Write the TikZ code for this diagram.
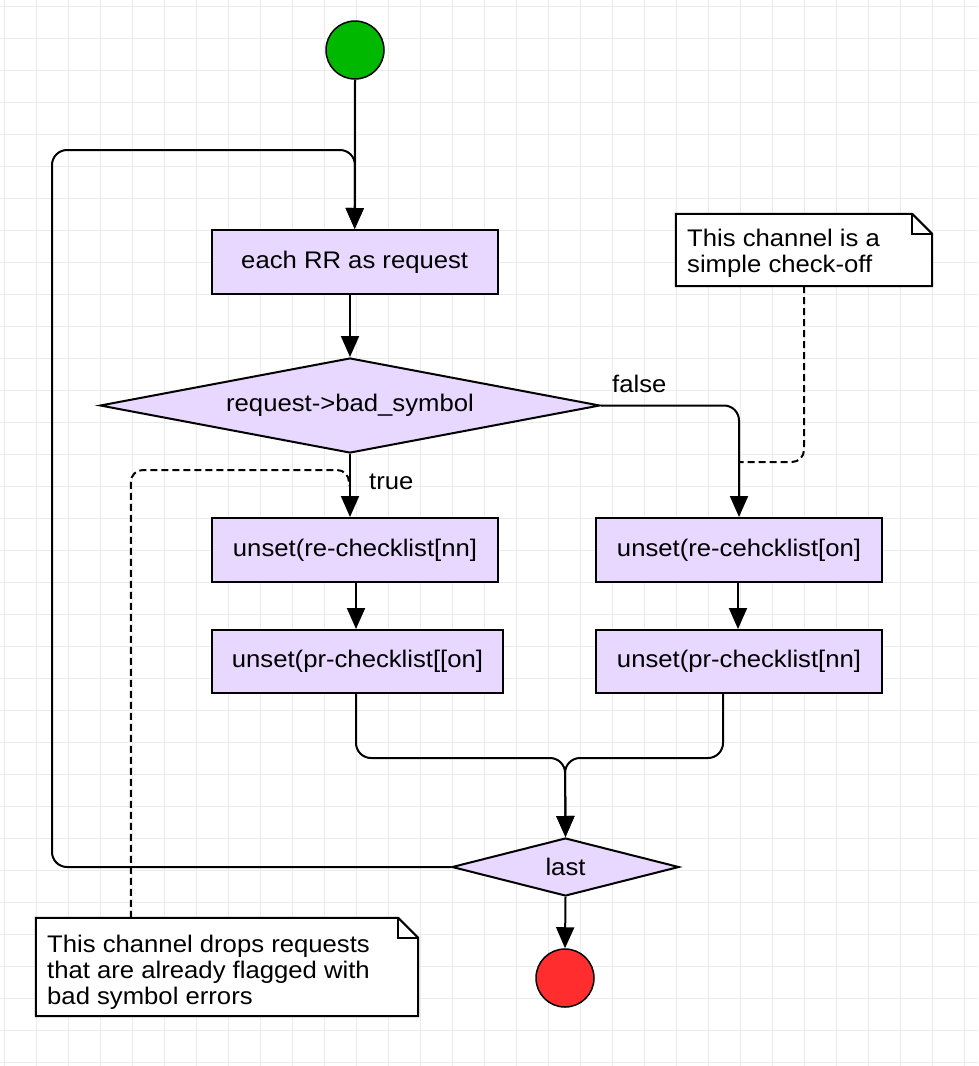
\documentclass[tikz,border=0pt]{standalone}
\usepackage{fontspec}
\setmainfont{Liberation Sans}[FakeStretch=1.07]
\usetikzlibrary{arrows.meta,shapes.geometric}
\definecolor{boxfill}{HTML}{E8D7FF}
\definecolor{gridcol}{HTML}{EBEBEB}
\definecolor{startcol}{HTML}{00B800}
\definecolor{endcol}{HTML}{FF2D2D}
\tikzset{
  stepbox/.style={draw=black, fill=boxfill, line width=2pt, inner sep=0pt, rectangle},
  decide/.style={draw=black, fill=boxfill, line width=2pt, inner sep=0pt, diamond},
  startnode/.style={draw=black, fill=startcol, line width=1.5pt, circle, minimum size=58pt, inner sep=0pt},
  endnode/.style={draw=black, fill=endcol, line width=1.5pt, circle, minimum size=58pt, inner sep=0pt},
  flow/.style={line width=2pt, -{Triangle[length=21pt,width=18pt]}},
  plainflow/.style={line width=2pt},
  dashline/.style={line width=2pt, dash pattern=on 7pt off 4pt},
  noteshape/.style={inner sep=0pt, draw=none},
  noteline/.style={draw=black, fill=white, line width=2pt, line join=miter},
  notetext/.style={inner sep=0pt, align=left},
  lbl/.style={inner sep=0pt},
  gridline/.style={draw=gridcol, line width=1pt}
}
\begin{document}
\begin{tikzpicture}[x=1pt,y=-1pt,font=\fontsize{24}{26}\selectfont]
\useasboundingbox (0,0) rectangle (978,1066);
\fill[white] (0,0) rectangle (978,1066);
\foreach \gx in {4,36,...,964} {\draw[gridline] (\gx,0) -- (\gx,1066);}
\foreach \gy in {6,38,...,1062} {\draw[gridline] (0,\gy) -- (978,\gy);}

% nodes
\node[startnode] (start) at (355,50) {};
\node[stepbox, minimum width=286pt, minimum height=64pt] (b0) at (354.7,262) {each RR as request};
\node[decide, shape aspect=5.26, minimum width=500pt, minimum height=95pt] (d1) at (350,405.5) {request->bad\_symbol};
\node[stepbox, minimum width=286pt, minimum height=64pt] (rn) at (355,550) {unset(re-checklist[nn]};
\node[stepbox, minimum width=291pt, minimum height=63pt] (pon) at (357.5,661.5) {unset(pr-checklist[[on]};
\node[stepbox, minimum width=286pt, minimum height=64pt] (ron) at (739,550) {unset(re-cehcklist[on]};
\node[stepbox, minimum width=286pt, minimum height=63pt] (pnn) at (739,661.5) {unset(pr-checklist[nn]};
\node[decide, shape aspect=3.9, minimum width=227pt, minimum height=58pt] (last) at (565.5,867) {last};
\node[endnode] (end) at (565,978) {};

% notes
\node[noteshape, minimum width=256pt, minimum height=72pt] (n1) at (804,250) {};
\draw[noteline] (n1.north west) -- ([xshift=-20pt]n1.north east) -- ([yshift=-20pt]n1.north east) -- (n1.south east) -- (n1.south west) -- cycle;
\draw[noteline, fill=none] ([xshift=-20pt]n1.north east) |- ([yshift=-20pt]n1.north east);
\node[notetext, anchor=north west] (t1) at (687,229) {This channel is a\\simple check-off};

\node[noteshape, minimum width=382pt, minimum height=98pt] (n2) at (227,967) {};
\draw[noteline] (n2.north west) -- ([xshift=-20pt]n2.north east) -- ([yshift=-20pt]n2.north east) -- (n2.south east) -- (n2.south west) -- cycle;
\draw[noteline, fill=none] ([xshift=-20pt]n2.north east) |- ([yshift=-20pt]n2.north east);
\node[notetext, anchor=north west] (t2) at (47,934.5) {This channel drops requests\\that are already flagged with\\bad symbol errors};

% labels
\node[lbl, anchor=base west] (lfalse) at (612,392) {false};
\node[lbl, anchor=base west] (ltrue) at (369,489) {true};

% coordinates
\coordinate (L1) at (52,867);
\coordinate (L2) at (52,150);
\coordinate (L3) at (355,150);
\coordinate (M) at (565,758);
\coordinate (dA) at (740,462);
\coordinate (dB) at (349,486);

% connectors
\draw[flow] (start.south) -- (b0.north);
\draw[flow, rounded corners=15pt] (last.west) -- (L1) -- (L2) -- (L3) -- (b0.north);
\draw[flow] (b0.south -| d1.north) -- (d1.north);
\draw[flow] (d1.south) -- (d1.south |- rn.north);
\draw[flow, rounded corners=15pt] (d1.east) -| (ron.north);
\draw[flow] (rn.south -| 356,0) -- (pon.north -| 356,0);
\draw[flow] (ron.south -| 738,0) -- (pnn.north -| 738,0);
\draw[flow, rounded corners=15pt] (pon.south -| 356,0) |- (M) -- (last.north);
\draw[flow, rounded corners=15pt] (pnn.south -| 723,0) |- (M) -- (last.north);
\draw[flow] (last.south) -- (end.north);

% dashed note connectors
\draw[dashline, rounded corners=12pt] (n1.south) |- (dA);
\draw[dashline, rounded corners=12pt] ([xshift=95pt]n2.north west) |- ([yshift=16pt]dB) -- (dB);
\end{tikzpicture}
\end{document}
